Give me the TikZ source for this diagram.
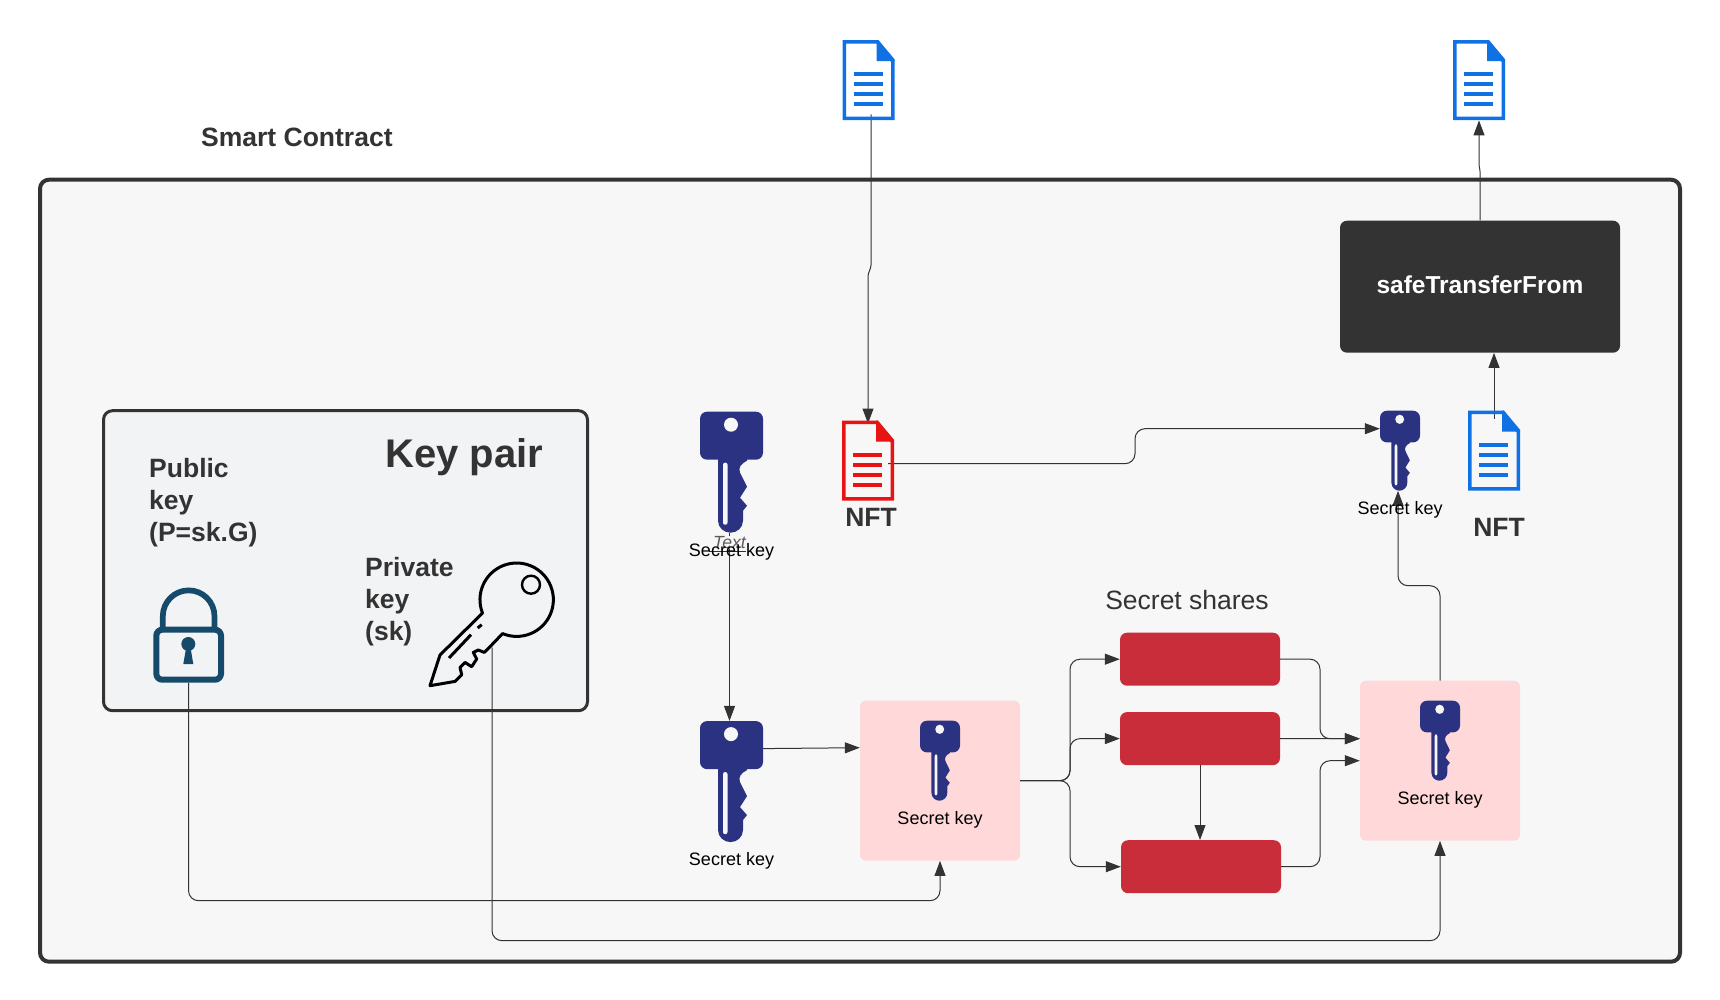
\documentclass[tikz,border=0pt]{standalone}
\usepackage{fontspec}
\setmainfont{Liberation Sans}
\usetikzlibrary{arrows.meta,positioning}
\definecolor{inkgrey}{HTML}{333333}
\definecolor{framefill}{HTML}{F7F7F7}
\definecolor{pairfill}{HTML}{F2F3F5}
\definecolor{keyblue}{HTML}{2B3282}
\definecolor{lockblue}{HTML}{164A6A}
\definecolor{docblue}{HTML}{1071E5}
\definecolor{docred}{HTML}{E81313}
\definecolor{sharered}{HTML}{C92D39}
\definecolor{softpink}{HTML}{FFD9D9}
\tikzstyle{frame}=[rectangle,draw=inkgrey,line width=4pt,rounded corners=9pt,fill=framefill,minimum width=1640pt,minimum height=782pt]
\tikzstyle{pairbox}=[rectangle,draw=inkgrey,line width=3pt,rounded corners=9pt,fill=pairfill,minimum width=484pt,minimum height=300pt]
\tikzstyle{pinkbox}=[rectangle,rounded corners=6pt,fill=softpink,minimum width=160pt,minimum height=160pt]
\tikzstyle{share}=[rectangle,rounded corners=7pt,fill=sharered,minimum width=160pt,minimum height=53pt]
\tikzstyle{darkbox}=[rectangle,rounded corners=7pt,fill=inkgrey,text=white,minimum width=280pt,minimum height=132pt,text depth=4pt,font=\fontsize{24.5}{30}\selectfont\bfseries]
\tikzstyle{icon}=[rectangle,inner sep=0pt,minimum width=40pt,minimum height=80pt]
\tikzstyle{bigicon}=[icon,minimum width=63pt,minimum height=121pt]
\tikzstyle{doc}=[icon,minimum width=52pt,minimum height=80pt]
\tikzstyle{seclabel}=[inner sep=0pt,font=\fontsize{18}{21}\selectfont,text=black]
\tikzstyle{title}=[inner sep=0pt,text=inkgrey,font=\fontsize{26.5}{32}\selectfont\bfseries,align=left]
\tikzstyle{edgetag}=[inner sep=0pt,fill=framefill,text=inkgrey!80,font=\fontsize{17.6}{21}\selectfont\itshape]
\tikzstyle{arr}=[-{Triangle[length=15pt,width=11pt]},line width=1pt,draw=inkgrey,rounded corners=10pt]
\tikzstyle{small}=[xscale=.635,yscale=.661]
\tikzset{
keyicon/.pic={
  \begin{scope}[shift={(-31.5,-60.5)}]
  \fill[keyblue,rounded corners=7pt] (0,0) rectangle (63,48);
  \fill[keyblue] (18,46) -- (47,46) -- (47,49) .. controls (41,52) and (38,56) .. (40,61) -- (47,75) -- (40,86) -- (47,94) -- (43,99) -- (43,109) .. controls (43,116) and (37,121) .. (30.5,121) .. controls (24,121) and (18,116) .. (18,109) -- cycle;
  \fill[framefill,rounded corners=2pt] (23,51) rectangle (27.5,113);
  \fill[framefill] (31,13) circle (7);
  \end{scope}
},
docicon/.pic={
  \begin{scope}[shift={(-26,-40)}]
  \draw[#1,line width=3.5pt] (1.75,1.75) -- (35,1.75) -- (50.25,21) -- (50.25,78.25) -- (1.75,78.25) -- cycle;
  \fill[#1] (34,0) -- (36,0) -- (52,19) -- (52,21) -- (34,21) -- cycle;
  \foreach \y in {34,44,54,64} \draw[#1,line width=4pt] (11,\y) -- (40,\y);
  \end{scope}
}
}
\begin{document}
\begin{tikzpicture}[x=1pt,y=-1pt]
\useasboundingbox (0,-0.7) rectangle (1720,999.3);
\node (frame) [frame] at (860,570) {};
\node (contract) [title,anchor=base west] at (201,146) {Smart Contract};
\node (pair) [pairbox] at (345.5,560) {};
\node (pairtitle) [title,anchor=base west,font=\fontsize{40}{46}\selectfont\bfseries] at (385,467) {Key pair};
\node (public) [title,anchor=north west] at (149,457) {Public\\key\\(P=sk.G)};
\node (private) [title,anchor=north west] at (365,556.5) {Private\\key\\(sk)};
\node (lock) [icon,minimum width=71pt,minimum height=95pt] at (188.5,634.5) {};
\node (bigkey) [icon,minimum width=124pt,minimum height=125pt] at (492,623.5) {};
% documents
\node (docIn) [doc] at (868.5,79.5) {};
\node (docTop) [doc] at (1479,79.5) {};
\node (docNft) [doc] at (1494,450) {};
\node (nftRed) [doc] at (868,460) {};
\node (nftA) [title,below=7pt of nftRed,xshift=3pt] {NFT};
\node (nftB) [title,below=27pt of docNft,xshift=5pt] {NFT};
% keys and boxes
\node (keyA) [bigicon] at (731.5,471.5) {};
\node (keyB) [bigicon,below=188pt of keyA] {};
\node (pinkA) [pinkbox] at (940,780) {};
\node (pinkB) [pinkbox] at (1440,760) {};
\node (keyC) [icon] at (940,760) {};
\node (keyD) [icon] at (1440,740) {};
\node (keyE) [icon] at (1400,450) {};
\node (shareA) [share] at (1200,658.5) {};
\node (shareB) [share,below=26pt of shareA] {};
\node (shareC) [share] at (1201,866) {};
\node (shares) [inner sep=0pt,text=inkgrey,font=\fontsize{26.5}{32}\selectfont,above=23pt of shareA,xshift=-13pt] {Secret shares};
\node (transfer) [darkbox] at (1480,286) {safeTransferFrom};
\coordinate (forkA) at (1070,780);
\coordinate (forkB) at (1320,738);
\coordinate (forkC) at (1320,760);
\coordinate (bendA) at (1398,585);
\coordinate (busA) at (940,900);
\coordinate (busB) at (1440,940);
% connectors
\draw [arr,rounded corners=1.5pt] ([xshift=2.5pt,yshift=6pt]docIn.south) -- (871,266) -- (868,274) -- ([yshift=-3pt]nftRed.north);
\draw [arr] ([xshift=-6pt,yshift=-3pt]nftRed.east) -- (1135,463) -- (1135,428) -- ([yshift=22pt]keyE.west);
\draw [arr] ([xshift=-2pt]keyA.south) -- node (tagA) [edgetag,pos=0.05] {Text} ([xshift=-2pt]keyB.north);
\draw [inkgrey,line width=1pt] ([xshift=-4pt,yshift=-2.3pt]tagA.south west) -- ([yshift=-2.3pt]tagA.south east);
\draw [arr] ([yshift=33pt]keyB.east) -- ([yshift=33pt]pinkA.west);
\draw [arr] (pinkA.east) -- (forkA) |- (shareA.west);
\draw [arr] (pinkA.east) -- (forkA) |- (shareB.west);
\draw [arr] (pinkA.east) -- (forkA) |- (shareC.west);
\draw [arr] (shareA.east) -| (forkB) -- ([yshift=22pt]pinkB.west);
\draw [arr] (shareB.east) -- ([yshift=22pt]pinkB.west);
\draw [arr] (shareC.east) -| (forkC) -- (pinkB.west);
\draw [arr] (shareB.south) -- (shareB.south |- shareC.north);
\draw [arr] (pinkB.north) |- (bendA) -- ([xshift=-2pt]keyE.south);
\draw [arr] ([yshift=-8pt]docNft.north) -- (docNft.north |- transfer.south);
\draw [arr,rounded corners=1pt] (transfer.north) -- (1480,170) -- (1479,164) -- (docTop.south);
\draw [arr] (lock.south) |- (busA) -- (pinkA.south);
\draw [arr] ([yshift=-23.5pt]bigkey.center) |- (busB) -- (pinkB.south);
% icons
\foreach \k in {keyA,keyB} \pic at (\k.center) {keyicon};
\foreach \k in {keyC,keyD,keyE} \pic [small] at (\k.center) {keyicon};
\pic at (docIn.center) {docicon=docblue};
\pic at (docTop.center) {docicon=docblue};
\pic at (docNft.center) {docicon=docblue};
\pic at (nftRed.center) {docicon=docred};
\node (labelA) [seclabel,below=10pt of keyA] {Secret key};
\node (labelB) [seclabel,below=10pt of keyB] {Secret key};
\node (labelC) [seclabel,below=10pt of keyC] {Secret key};
\node (labelD) [seclabel,below=10pt of keyD] {Secret key};
\node (labelE) [seclabel,below=10pt of keyE] {Secret key};
% lock
\draw [lockblue,line width=6pt,rounded corners=6pt] (156.3,629) rectangle (221,679);
\draw [lockblue,line width=5.7pt] (162.8,627) -- (162.8,615.5) arc[start angle=180,end angle=360,radius=25.85] -- (214.5,627);
\fill [lockblue] (188.3,643.3) circle (7);
\fill [lockblue] (186,648) -- (190.7,648) -- (193.3,663.3) -- (183.3,663.3) -- cycle;
% private key
\draw [black,line width=3pt,line join=round,fill=pairfill] (482.5,612.4) arc[start angle=158.6,end angle=472.6,radius=36.7] -- (490,646) -- (484.3,651.7) -- (478.3,649.3) -- (473.3,651.7) -- (476.7,658.3) -- (471.7,666) -- (465,661.7) -- (460,666.7) -- (461.7,674) -- (455,680.7) -- (430,685) -- (440,654.3) -- cycle;
\draw [black,line width=3pt] (449,657.3) -- (471,634);
\draw [black,line width=3pt] (477.7,627.3) -- (481.7,624);
\draw [black,line width=2.4pt] (531,584) circle (9);
\end{tikzpicture}
\end{document}
